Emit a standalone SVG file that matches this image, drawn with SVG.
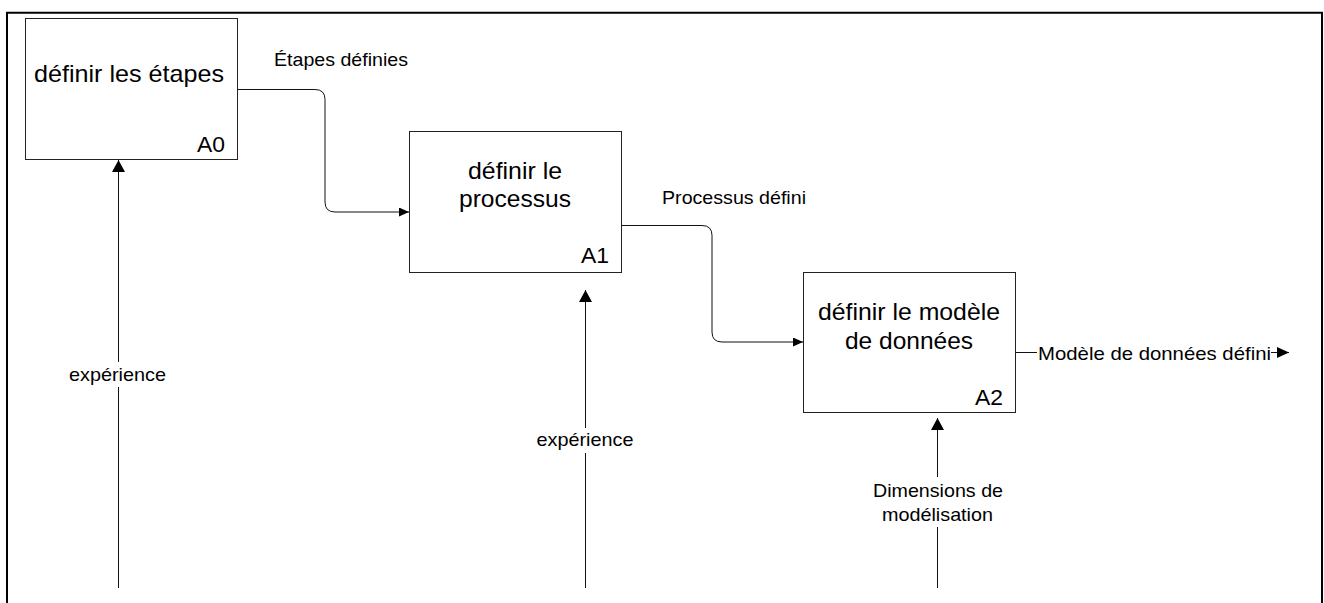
<svg xmlns="http://www.w3.org/2000/svg" width="1324" height="603" viewBox="0 0 1324 603">
<style>
.box{fill:#fff;stroke:#222;stroke-width:1}
.t{font-family:"Liberation Sans",Arial,sans-serif;fill:#000}
.bt{font-size:24px;text-anchor:middle}
.id{font-size:22.5px;text-anchor:end}
.lb{font-size:19px}
.c{fill:none;stroke:#111;stroke-width:1}
</style>
<defs>
<marker id="arrS" viewBox="0 0 10 9" refX="10" refY="4.5" markerWidth="10" markerHeight="9" markerUnits="userSpaceOnUse" orient="auto"><path d="M0,0 L10,4.5 L0,9 z" fill="#000"/></marker>
<marker id="arrM" viewBox="0 0 12 11" refX="12" refY="5.5" markerWidth="12" markerHeight="11" markerUnits="userSpaceOnUse" orient="auto"><path d="M0,0 L12,5.5 L0,11 z" fill="#000"/></marker>
<marker id="arrL" viewBox="0 0 12 13" refX="12" refY="6.5" markerWidth="12" markerHeight="13" markerUnits="userSpaceOnUse" orient="auto"><path d="M0,0 L12,6.5 L0,13 z" fill="#000"/></marker>
</defs>
<rect width="1324" height="603" fill="#fff"/>
<path d="M7,606 V12.7 H1322 V606" fill="none" stroke="#000" stroke-width="2"/>

<g id="A0">
<rect class="box" x="25.5" y="18.5" width="212" height="141"/>
<text class="t bt" x="129" y="81.5" textLength="190" lengthAdjust="spacingAndGlyphs">définir les étapes</text>
<text class="t id" x="225" y="152" textLength="28" lengthAdjust="spacingAndGlyphs">A0</text>
</g>
<g id="A1">
<rect class="box" x="409.5" y="131.5" width="212" height="141"/>
<text class="t bt" x="515" y="179" textLength="94" lengthAdjust="spacingAndGlyphs">définir le</text>
<text class="t bt" x="515" y="207" textLength="112" lengthAdjust="spacingAndGlyphs">processus</text>
<text class="t id" x="609" y="263" textLength="28" lengthAdjust="spacingAndGlyphs">A1</text>
</g>
<g id="A2">
<rect class="box" x="803.5" y="272.5" width="212" height="140"/>
<text class="t bt" x="909" y="320" textLength="182" lengthAdjust="spacingAndGlyphs">définir le modèle</text>
<text class="t bt" x="909" y="349" textLength="128" lengthAdjust="spacingAndGlyphs">de données</text>
<text class="t id" x="1003" y="404.5" textLength="28" lengthAdjust="spacingAndGlyphs">A2</text>
</g>

<g id="connectors">
<path class="c" d="M237.5,89.5 H315 Q325,89.5 325,99.5 V202 Q325,212 335,212 H409" marker-end="url(#arrS)"/>
<path class="c" d="M621.5,225.5 H702 Q712,225.5 712,235.5 V332 Q712,342 722,342 H803" marker-end="url(#arrS)"/>
<path class="c" d="M1015.5,352.5 H1037"/>
<path class="c" d="M1271,352.5 H1289" marker-end="url(#arrM)"/>
<path class="c" d="M118.5,588 V387"/>
<path class="c" d="M118.5,362 V160" marker-end="url(#arrL)"/>
<path class="c" d="M585.5,588 V453"/>
<path class="c" d="M585.5,428 V290" marker-end="url(#arrL)"/>
<path class="c" d="M937.5,588 V527"/>
<path class="c" d="M937.5,477 V418" marker-end="url(#arrL)"/>
</g>

<g id="labels">
<text class="t lb" x="274" y="66" textLength="134" lengthAdjust="spacingAndGlyphs">Étapes définies</text>
<text class="t lb" x="662" y="204" textLength="144" lengthAdjust="spacingAndGlyphs">Processus défini</text>
<text class="t lb" x="1038" y="359.5" textLength="233" lengthAdjust="spacingAndGlyphs">Modèle de données défini</text>
<text class="t lb" x="117.5" y="381" text-anchor="middle" textLength="97" lengthAdjust="spacingAndGlyphs">expérience</text>
<text class="t lb" x="585" y="446" text-anchor="middle" textLength="97" lengthAdjust="spacingAndGlyphs">expérience</text>
<text class="t lb" x="938" y="497" text-anchor="middle" textLength="130" lengthAdjust="spacingAndGlyphs">Dimensions de</text>
<text class="t lb" x="937.5" y="521" text-anchor="middle" textLength="111" lengthAdjust="spacingAndGlyphs">modélisation</text>
</g>
</svg>
